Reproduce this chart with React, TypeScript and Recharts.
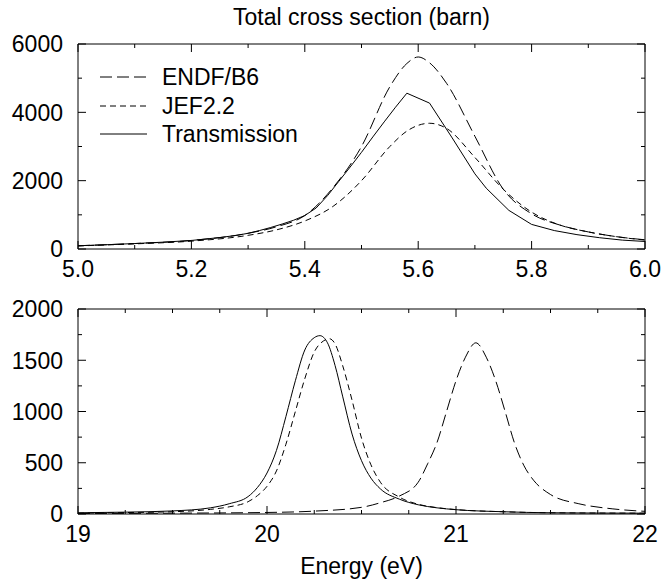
import React from 'react';
import { LineChart, Line, XAxis, YAxis, Legend } from 'recharts';

const FONT = "'Liberation Sans', Arial, Helvetica, sans-serif";
const FS = 23;

// Series names / dash styles
const seriesNames = ['ENDF/B6', 'JEF2.2', 'Transmission'];
const seriesDash = ['12 5', '6 4', ''];

// Top panel ticks
const topXMajor = [5.0, 5.2, 5.4, 5.6, 5.8, 6.0];
const topXMinor = [5.1, 5.3, 5.5, 5.7, 5.9];
const topYMajor = [0, 2000, 4000, 6000];
const topYMinor = [1000, 3000, 5000];

// Bottom panel ticks
const botXMajor = [19, 20, 21, 22];
const botXMinor = [19.25, 19.5, 19.75, 20.25, 20.5, 20.75, 21.25, 21.5, 21.75];
const botYMajor = [0, 500, 1000, 1500, 2000];
const botYMinor = [250, 750, 1250, 1750];

// Top panel data (energy eV, cross section barn)
const topEndfE = [5.0, 5.1, 5.2, 5.3, 5.35, 5.4, 5.45, 5.5, 5.55, 5.58, 5.6, 5.62, 5.65, 5.7, 5.75, 5.8, 5.85, 5.9, 5.95, 6.0];
const topEndfS = [95, 160, 250, 460, 650, 980, 1800, 3000, 4750, 5430, 5620, 5450, 4850, 3300, 1750, 1030, 700, 500, 360, 270];

const topJefE = [5.0, 5.1, 5.2, 5.3, 5.35, 5.4, 5.45, 5.5, 5.55, 5.58, 5.6, 5.62, 5.65, 5.7, 5.75, 5.8, 5.85, 5.9, 5.95, 6.0];
const topJefS = [90, 150, 230, 400, 560, 820, 1250, 2000, 3000, 3450, 3620, 3680, 3530, 2680, 1750, 1080, 700, 500, 360, 260];

const topTrE = [5.0, 5.05, 5.1, 5.15, 5.2, 5.25, 5.28, 5.3, 5.32, 5.34, 5.36, 5.38, 5.4, 5.42, 5.44, 5.46, 5.48, 5.5, 5.52, 5.54, 5.56, 5.58, 5.62, 5.66, 5.7, 5.72, 5.76, 5.8, 5.84, 5.88, 5.92, 5.96, 6.0];
const topTrS = [95, 125, 160, 200, 250, 335, 400, 460, 540, 630, 730, 840, 980, 1200, 1560, 1980, 2400, 2830, 3280, 3720, 4150, 4560, 4270, 3250, 2200, 1780, 1130, 720, 540, 420, 330, 260, 220];

// Bottom panel data
const botEndfE = [19.0, 19.5, 20.0, 20.25, 20.5, 20.6, 20.7, 20.8, 20.85, 20.9, 20.95, 21.0, 21.05, 21.105, 21.16, 21.21, 21.26, 21.31, 21.36, 21.41, 21.5, 21.65, 21.83, 22.0];
const botEndfS = [5, 8, 15, 28, 65, 110, 175, 310, 490, 700, 1000, 1300, 1530, 1670, 1530, 1300, 1000, 690, 470, 330, 190, 100, 50, 26];

const botJefE = [19.0, 19.25, 19.5, 19.7, 19.8, 19.9, 19.95, 20.0, 20.05, 20.1, 20.15, 20.2, 20.25, 20.3, 20.33, 20.36, 20.4, 20.45, 20.5, 20.55, 20.6, 20.7, 20.8, 20.9, 21.0, 21.25, 21.5, 22.0];
const botJefS = [8, 14, 22, 45, 70, 120, 180, 270, 420, 680, 1000, 1320, 1580, 1690, 1710, 1660, 1450, 1110, 740, 480, 310, 165, 95, 62, 43, 22, 12, 8];

const botTrE = [19.0, 19.25, 19.5, 19.7, 19.8, 19.9, 19.95, 20.0, 20.05, 20.1, 20.15, 20.2, 20.25, 20.28, 20.32, 20.36, 20.4, 20.45, 20.5, 20.55, 20.6, 20.7, 20.8, 20.9, 21.0, 21.25, 21.5, 22.0];
const botTrS = [12, 18, 30, 60, 100, 170, 260, 400, 620, 950, 1300, 1600, 1720, 1740, 1670, 1450, 1150, 780, 520, 350, 245, 145, 90, 60, 42, 22, 12, 8];

const zip = (e: number[], s: number[]) => e.map((x, i) => ({ e: x, s: s[i] }));
const isIn = (arr: number[], v: number) => arr.some((m) => Math.abs(m - v) < 1e-9);

function makeXTick(majors: number[], side: 'bottom' | 'top', fmt: (v: number) => string) {
  return (props: any) => {
    const { x, y, payload } = props;
    const v = Number(payload.value);
    const major = isIn(majors, v);
    const len = major ? 8 : 4;
    const dir = side === 'bottom' ? -1 : 1;
    return (
      <g>
        <line x1={x} x2={x} y1={y} y2={y + dir * len} stroke="#000" strokeWidth={1} />
        {side === 'bottom' && major ? (
          <text x={x} y={y + 28} textAnchor="middle" fontSize={FS} fontFamily={FONT} fill="#000">
            {fmt(v)}
          </text>
        ) : null}
      </g>
    );
  };
}

function makeYTick(majors: number[], side: 'left' | 'right') {
  return (props: any) => {
    const { x, y, payload } = props;
    const v = Number(payload.value);
    const major = isIn(majors, v);
    const len = major ? 8 : 4;
    const dir = side === 'left' ? 1 : -1;
    return (
      <g>
        <line x1={x} x2={x + dir * len} y1={y} y2={y} stroke="#000" strokeWidth={1} />
        {side === 'left' && major ? (
          <text x={x - 15} y={y} dy="0.36em" textAnchor="end" fontSize={FS} fontFamily={FONT} fill="#000">
            {String(v)}
          </text>
        ) : null}
      </g>
    );
  };
}

const LegendBox = () => (
  <div style={{ display: 'flex', flexDirection: 'column', fontFamily: FONT }}>
    {seriesNames.map((n, i) => (
      <div key={n} style={{ display: 'flex', alignItems: 'center', height: 28.5 }}>
        <svg width={48} height={28} style={{ display: 'block' }}>
          <line x1={0} x2={47} y1={14} y2={14} stroke="#000" strokeWidth={1} strokeDasharray={seriesDash[i] || undefined} />
        </svg>
        <span style={{ marginLeft: 14, fontSize: FS, lineHeight: '28.5px', color: '#000', whiteSpace: 'nowrap' }}>{n}</span>
      </div>
    ))}
  </div>
);

const axisLine = { stroke: '#000', strokeWidth: 1 };

export default function App() {
  const fmt1 = (v: number) => v.toFixed(1);
  const fmt0 = (v: number) => String(Math.round(v));
  const topX = [...topXMajor, ...topXMinor].sort((a, b) => a - b);
  const topY = [...topYMajor, ...topYMinor].sort((a, b) => a - b);
  const botX = [...botXMajor, ...botXMinor].sort((a, b) => a - b);
  const botY = [...botYMajor, ...botYMinor].sort((a, b) => a - b);

  const topSeries = [zip(topEndfE, topEndfS), zip(topJefE, topJefS), zip(topTrE, topTrS)];
  const botSeries = [zip(botEndfE, botEndfS), zip(botJefE, botJefS), zip(botTrE, botTrS)];
  const topTypes = ['monotone', 'monotone', 'linear'];
  const botTypes = ['monotone', 'monotone', 'monotone'];

  return (
    <div style={{ position: 'absolute', left: 0, top: 0, width: 661, height: 583, background: '#fff', fontFamily: FONT }}>
      <div style={{ position: 'absolute', left: 0, top: 0 }}>
        <LineChart width={661} height={290} margin={{ top: 43, right: 15, bottom: 0, left: 0 }}>
          <XAxis xAxisId="b" dataKey="e" type="number" domain={[5, 6]} allowDataOverflow ticks={topX} interval={0}
            tickSize={0} tickMargin={0} tickLine={false} axisLine={axisLine} height={41}
            tick={makeXTick(topXMajor, 'bottom', fmt1)} />
          <XAxis xAxisId="t" orientation="top" dataKey="e" type="number" domain={[5, 6]} allowDataOverflow ticks={topX} interval={0}
            tickSize={0} tickMargin={0} tickLine={false} axisLine={axisLine} height={1}
            tick={makeXTick(topXMajor, 'top', fmt1)}
            label={{ value: 'Total cross section (barn)', position: 'top', offset: 18, fontSize: FS, fill: '#000', fontFamily: FONT }} />
          <YAxis yAxisId="l" type="number" domain={[0, 6000]} allowDataOverflow ticks={topY} interval={0}
            tickSize={0} tickMargin={0} tickLine={false} axisLine={axisLine} width={78}
            tick={makeYTick(topYMajor, 'left')} />
          <YAxis yAxisId="r" orientation="right" type="number" domain={[0, 6000]} allowDataOverflow ticks={topY} interval={0}
            tickSize={0} tickMargin={0} tickLine={false} axisLine={axisLine} width={1}
            tick={makeYTick(topYMajor, 'right')} />
          <Legend layout="horizontal" verticalAlign="middle" align="center"
            wrapperStyle={{ left: 100, top: 63, width: 'auto', height: 'auto' }} content={() => <LegendBox />} />
          {topSeries.map((d, i) => (
            <Line key={seriesNames[i]} xAxisId="b" yAxisId="l" data={d} dataKey="s" name={seriesNames[i]}
              type={topTypes[i] as any} stroke="#000" strokeWidth={1}
              strokeDasharray={seriesDash[i] || undefined} dot={false} activeDot={false} isAnimationActive={false} />
          ))}
          <Line key="mirror" xAxisId="t" yAxisId="r" data={topSeries[2]} dataKey="s" name="mirror" legendType="none"
            stroke="#000" strokeOpacity={0} dot={false} activeDot={false} isAnimationActive={false} />
        </LineChart>
      </div>
      <div style={{ position: 'absolute', left: 0, top: 290 }}>
        <LineChart width={661} height={293} margin={{ top: 18, right: 15, bottom: 0, left: 0 }}>
          <XAxis xAxisId="b" dataKey="e" type="number" domain={[19, 22]} allowDataOverflow ticks={botX} interval={0}
            tickSize={0} tickMargin={0} tickLine={false} axisLine={axisLine} height={69}
            tick={makeXTick(botXMajor, 'bottom', fmt0)}
            label={{ value: 'Energy (eV)', position: 'insideBottom', offset: 9, fontSize: FS, fill: '#000', fontFamily: FONT }} />
          <XAxis xAxisId="t" orientation="top" dataKey="e" type="number" domain={[19, 22]} allowDataOverflow ticks={botX} interval={0}
            tickSize={0} tickMargin={0} tickLine={false} axisLine={axisLine} height={1}
            tick={makeXTick(botXMajor, 'top', fmt0)} />
          <YAxis yAxisId="l" type="number" domain={[0, 2000]} allowDataOverflow ticks={botY} interval={0}
            tickSize={0} tickMargin={0} tickLine={false} axisLine={axisLine} width={78}
            tick={makeYTick(botYMajor, 'left')} />
          <YAxis yAxisId="r" orientation="right" type="number" domain={[0, 2000]} allowDataOverflow ticks={botY} interval={0}
            tickSize={0} tickMargin={0} tickLine={false} axisLine={axisLine} width={1}
            tick={makeYTick(botYMajor, 'right')} />
          {botSeries.map((d, i) => (
            <Line key={seriesNames[i]} xAxisId="b" yAxisId="l" data={d} dataKey="s" name={seriesNames[i]}
              type={botTypes[i] as any} stroke="#000" strokeWidth={1}
              strokeDasharray={seriesDash[i] || undefined} dot={false} activeDot={false} isAnimationActive={false} />
          ))}
          <Line key="mirror" xAxisId="t" yAxisId="r" data={botSeries[2]} dataKey="s" name="mirror" legendType="none"
            stroke="#000" strokeOpacity={0} dot={false} activeDot={false} isAnimationActive={false} />
        </LineChart>
      </div>
    </div>
  );
}
